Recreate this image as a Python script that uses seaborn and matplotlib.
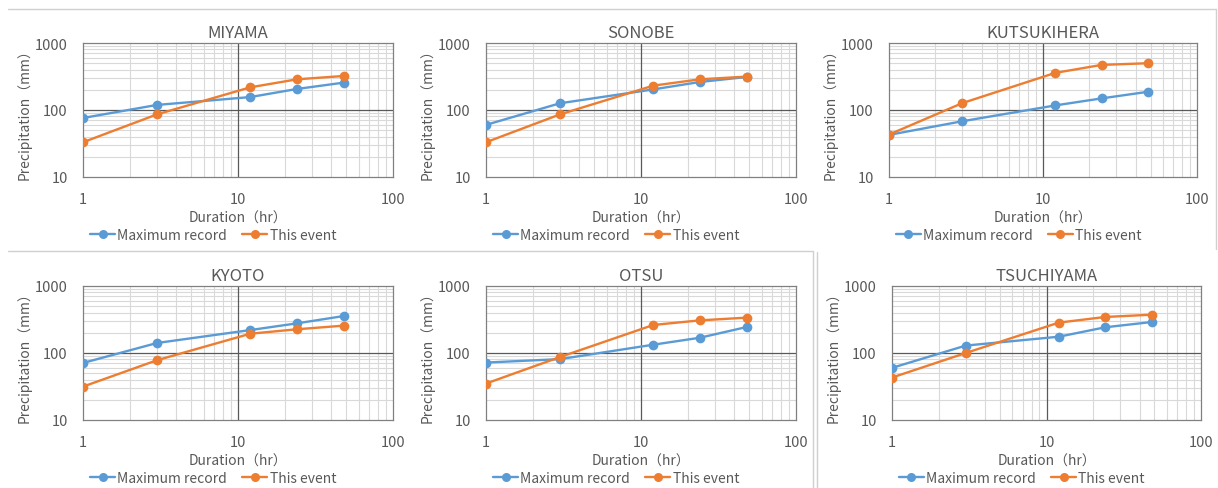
import numpy as np
import pandas as pd
import matplotlib
matplotlib.use("Agg")
import matplotlib.pyplot as plt
from matplotlib.lines import Line2D
from matplotlib.ticker import LogLocator, FixedLocator, NullFormatter, FuncFormatter
import seaborn as sns

# Rainfall depth-duration data (mm) for each gauge
durations = [1, 3, 12, 24, 48]
stations = ["MIYAMA", "SONOBE", "KUTSUKIHERA", "KYOTO", "OTSU", "TSUCHIYAMA"]
series_names = ["Maximum record", "This event"]

miyama_max = [76, 119, 156, 206, 256]
miyama_event = [33, 86, 218, 287, 322]
sonobe_max = [60, 126, 203, 262, 311]
sonobe_event = [33, 86, 231, 287, 315]
kutsukihera_max = [42.5, 68, 117, 149, 187]
kutsukihera_event = [43, 127, 358, 471, 499]
kyoto_max = [71, 141, 220, 277, 356]
kyoto_event = [31.5, 78, 194, 226, 256]
otsu_max = [72, 81, 133, 169, 244]
otsu_event = [35, 87, 262, 307, 337]
tsuchiyama_max = [60, 129, 175, 242, 290]
tsuchiyama_event = [43, 100, 284, 345, 373]

records = {
    "MIYAMA": (miyama_max, miyama_event),
    "SONOBE": (sonobe_max, sonobe_event),
    "KUTSUKIHERA": (kutsukihera_max, kutsukihera_event),
    "KYOTO": (kyoto_max, kyoto_event),
    "OTSU": (otsu_max, otsu_event),
    "TSUCHIYAMA": (tsuchiyama_max, tsuchiyama_event),
}

rows = []
for st in stations:
    for name, vals in zip(series_names, records[st]):
        for d, v in zip(durations, vals):
            rows.append({"station": st, "series": name, "duration": d, "precip": v})
df = pd.DataFrame(rows)

sns.set_theme(style="white")
plt.rcParams["font.family"] = ["Noto Sans CJK JP", "DejaVu Sans"]

text_color = "#595959"
palette = {"Maximum record": "#5B9BD5", "This event": "#ED7D31"}

W, H = 1218, 489
fig = plt.figure(figsize=(W / 100, H / 100), dpi=100)
fig.patch.set_facecolor("white")

# plot-area boxes in pixels: left, right, top, bottom
boxes = [
    (83, 393, 44, 178), (486, 796, 44, 178), (889, 1197, 44, 178),
    (83, 393, 287, 421), (486, 796, 287, 421), (892, 1201, 287, 421),
]

def fmt(v, _):
    return f"{int(round(v))}"

for st, (l, r, t, b) in zip(stations, boxes):
    ax = fig.add_axes([l / W, 1 - b / H, (r - l) / W, (b - t) / H])
    sub = df[df["station"] == st]
    sns.lineplot(data=sub, x="duration", y="precip", hue="series",
                 hue_order=series_names, palette=palette, marker="o",
                 markersize=7, markeredgewidth=0, linewidth=1.7,
                 ax=ax, legend=False, zorder=3)
    ax.set_xscale("log")
    ax.set_yscale("log")
    ax.set_xlim(1, 100)
    ax.set_ylim(10, 1000)

    ax.xaxis.set_major_locator(FixedLocator([1, 10, 100]))
    ax.yaxis.set_major_locator(FixedLocator([10, 100, 1000]))
    ax.xaxis.set_minor_locator(LogLocator(base=10, subs=np.arange(2, 10)))
    ax.yaxis.set_minor_locator(LogLocator(base=10, subs=np.arange(2, 10)))
    ax.xaxis.set_major_formatter(FuncFormatter(fmt))
    ax.yaxis.set_major_formatter(FuncFormatter(fmt))
    ax.xaxis.set_minor_formatter(NullFormatter())
    ax.yaxis.set_minor_formatter(NullFormatter())

    # light minor grid, dark decade lines on top of it
    ax.grid(which="minor", color="#D9D9D9", linewidth=0.8, zorder=0)
    ax.axvline(10, color="#595959", linewidth=0.9, zorder=1.5)
    ax.axhline(100, color="#595959", linewidth=0.9, zorder=1.5)
    ax.set_axisbelow(True)
    for sp in ax.spines.values():
        sp.set_color("#808080")
        sp.set_linewidth(0.9)

    ax.tick_params(which="major", length=0, pad=11, labelsize=10.5,
                   colors=text_color)
    ax.tick_params(which="minor", direction="in", length=3,
                   color="#808080", width=0.6)

    ax.set_title(st, fontsize=12, color=text_color, pad=4)
    ax.set_xlabel("Duration（hr）", fontsize=10, color=text_color, labelpad=3)
    ax.set_ylabel("Precipitation（mm）", fontsize=10, color=text_color,
                  labelpad=2)

    handles = [Line2D([], [], color=palette[n], marker="o", markersize=6.5,
                      markeredgewidth=0, linewidth=1.7) for n in series_names]
    leg = ax.legend(handles, series_names, loc="center",
                    bbox_to_anchor=(0.42, -0.43), ncol=2, frameon=False,
                    fontsize=10, handlelength=1.8, handletextpad=0.15,
                    columnspacing=1.1)
    for txt in leg.get_texts():
        txt.set_color(text_color)

# chart-area borders
border = "#D0D0D0"
def hline(y, x0, x1):
    fig.add_artist(Line2D([x0 / W, x1 / W], [1 - y / H, 1 - y / H],
                          color=border, linewidth=1))

def vline(x, y0, y1):
    fig.add_artist(Line2D([x / W, x / W], [1 - y0 / H, 1 - y1 / H],
                          color=border, linewidth=1))

hline(10, 8, 1216)
vline(1216, 10, 250)
hline(252, 8, 813)
vline(813, 252, 489)
vline(817, 253, 489)

fig.savefig("out.png", dpi=100, facecolor="white")
